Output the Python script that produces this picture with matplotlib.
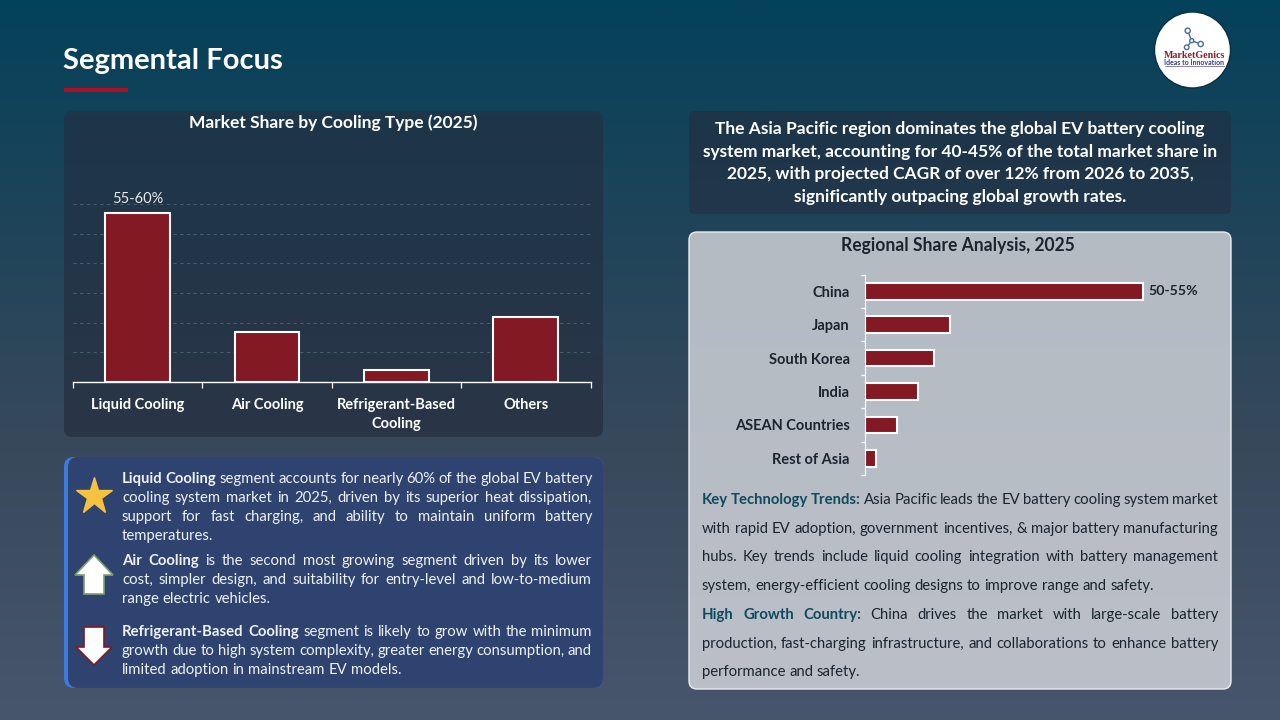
"""Segmental Focus slide: cooling type bars, regional bars and justified commentary."""
import numpy as np
import matplotlib
matplotlib.use("Agg")
import matplotlib.pyplot as plt
import matplotlib.colors as mcolors
from matplotlib.patches import Circle, FancyBboxPatch, Polygon, Rectangle

plt.rcParams["font.family"] = ["Lato", "DejaVu Sans"]

W, H = 1280, 720

cooling_types = ["Liquid Cooling", "Air Cooling", "Refrigerant-Based\nCooling", "Others"]
cooling_share = [57, 17, 4, 22]
cooling_labels = ["55-60%", "", "", ""]

regions = ["China", "Japan", "South Korea", "India", "ASEAN Countries", "Rest of Asia"]
region_share = [52.5, 16, 13, 10, 6, 2]
region_labels = ["50-55%", "", "", "", "", ""]

headline = [
    "The Asia Pacific region dominates the global EV battery cooling",
    "system market, accounting for 40-45% of the total market share in",
    "2025, with projected CAGR of over 12% from 2026 to 2035,",
    "significantly outpacing global growth rates.",
]
liquid_lines = [
    "Liquid Cooling segment accounts for nearly 60% of the global EV battery",
    "cooling system market in 2025, driven by its superior heat dissipation,",
    "support for fast charging, and ability to maintain uniform battery",
    "temperatures.",
]
air_lines = [
    "Air Cooling is the second most growing segment driven by its lower",
    "cost, simpler design, and suitability for entry-level and low-to-medium",
    "range electric vehicles.",
]
refrigerant_lines = [
    "Refrigerant-Based Cooling segment is likely to grow with the minimum",
    "growth due to high system complexity, greater energy consumption, and",
    "limited adoption in mainstream EV models.",
]
trend_lines = [
    "Key Technology Trends: Asia Pacific leads the EV battery cooling system market",
    "with rapid EV adoption, government incentives, & major battery manufacturing",
    "hubs. Key trends include liquid cooling integration with battery management",
    "system, energy-efficient cooling designs to improve range and safety.",
]
country_lines = [
    "High Growth Country: China drives the market with large-scale battery",
    "production, fast-charging infrastructure, and collaborations to enhance battery",
    "performance and safety.",
]

BAR = "#821923"
TEAL = "#0f4a5e"
DARK = "#1b2530"
BODY_SIZE = 10.7


def px_axes(fig, x0, y0, x1, y1, **kw):
    # axes from pixel box, y counted from the top of the slide
    return fig.add_axes([x0 / W, 1 - y1 / H, (x1 - x0) / W, (y1 - y0) / H], **kw)


def panel(ax, x, y, w, h, top, bottom, r=8, edge="none", lw=0):
    shape = FancyBboxPatch((x + r, y + r), w - 2 * r, h - 2 * r,
                           boxstyle=f"round,pad={r},rounding_size={r}",
                           fc="none", ec=edge, lw=lw, zorder=3)
    ax.add_patch(shape)
    cmap = mcolors.LinearSegmentedColormap.from_list("p", [top, bottom])
    img = ax.imshow(np.linspace(0, 1, 64)[:, None], cmap=cmap, aspect="auto",
                    extent=(x, x + w, y + h, y), zorder=2)
    img.set_clip_path(shape)


def justified(ax, lines, y0, step, x0, x1, n_bold, size, color, bold_color=None):
    """Draw lines word by word, stretching gaps; the last line stays flush left."""
    renderer = ax.figure.canvas.get_renderer()
    sx = ax.transData.transform((1, 0))[0] - ax.transData.transform((0, 0))[0]
    space = ax.text(0, 0, "a b", fontsize=size)
    a_b = space.get_window_extent(renderer).width
    space.set_text("ab")
    natural_gap = (a_b - space.get_window_extent(renderer).width) / sx
    space.remove()
    left = n_bold
    for i, line in enumerate(lines):
        words = line.split()
        items = []
        for w in words:
            bold = left > 0
            left -= 1
            t = ax.text(0, y0 + i * step, w, fontsize=size, va="baseline", zorder=6,
                        fontweight="bold" if bold else "normal",
                        color=(bold_color or color) if bold else color)
            items.append((t, t.get_window_extent(renderer).width / sx))
        total = sum(wd for _, wd in items)
        if i < len(lines) - 1:
            gap = (x1 - x0 - total) / (len(items) - 1)
        else:
            gap = natural_gap
        x = x0
        for t, wd in items:
            t.set_x(x)
            x += wd + gap


fig = plt.figure(figsize=(W / 100, H / 100), dpi=100)
bg = fig.add_axes([0, 0, 1, 1])
bg.set_xlim(0, W)
bg.set_ylim(H, 0)
bg.axis("off")

bg_cmap = mcolors.LinearSegmentedColormap.from_list(
    "bg", [(0, "#04415b"), (0.3, "#1e4459"), (0.63, "#39495c"), (1, "#47566c")])
bg.imshow(np.linspace(0, 1, 256)[:, None], cmap=bg_cmap, aspect="auto",
          extent=(0, W, H, 0), zorder=0)

bg.text(63, 69, "Segmental Focus", color="white", fontsize=21, fontweight="bold", zorder=6)
bg.add_patch(Rectangle((64, 87.5), 64, 4, fc="#b01020", zorder=5))

# panels
panel(bg, 64, 111, 539, 326, "#1d364a", "#2a3546")
panel(bg, 64, 457, 539, 231, "#3a7ddf", "#3a7ddf", r=10)
panel(bg, 68, 457, 535, 231, "#2e4371", "#2f4470", r=10)
panel(bg, 689, 111, 542, 103, "#1c3549", "#22374b", r=6)
panel(bg, 689, 232, 542, 457, "#b4bbc3", "#bbbfc8", r=8, edge="#e8ecef", lw=1)

bg.text(333, 122.5, "Market Share by Cooling Type (2025)", color="white", fontsize=12.5,
        fontweight="bold", ha="center", va="center", zorder=6)
bg.text(958, 245, "Regional Share Analysis, 2025", color=DARK, fontsize=12.65,
        fontweight="bold", ha="center", va="center", zorder=6)

for i, line in enumerate(headline):
    bg.text(960, 129 + i * 22.7, line, color="white", fontsize=12.5, fontweight="bold",
            ha="center", va="center", zorder=6)

# cooling type chart
ax1 = px_axes(fig, 73, 204, 590.5, 382, facecolor="none")
x1 = np.arange(len(cooling_types))
ax1.set_axisbelow(True)
ax1.yaxis.grid(True, color="#8c9aa8", ls=(0, (4, 4)), lw=0.6, alpha=0.45)
bars1 = ax1.bar(x1, cooling_share, width=0.5, color=BAR, edgecolor="white", lw=1.5)
ax1.bar_label(bars1, labels=cooling_labels, padding=5, color="#e6eaee", fontsize=10.5)
ax1.set_xlim(-0.5, len(cooling_types) - 0.5)
ax1.set_ylim(0, 60)
ax1.set_yticks(np.arange(10, 61, 10))
ax1.set_yticklabels([])
ax1.tick_params(axis="y", length=0)
ax1.set_xticks(x1)
ax1.set_xticklabels(cooling_types, color="white", fontsize=10.5, fontweight="bold", linespacing=1.45)
ax1.set_xticks(np.arange(-0.5, len(cooling_types)), minor=True)
ax1.tick_params(axis="x", which="major", length=0, pad=11.5)
ax1.tick_params(axis="x", which="minor", length=4.5, color="white", width=0.9)
for s in ["top", "left", "right"]:
    ax1.spines[s].set_visible(False)
ax1.spines["bottom"].set_color("white")
ax1.spines["bottom"].set_linewidth(1)

# regional chart
ax2 = px_axes(fig, 865, 274.5, 1183, 475, facecolor="none")
y2 = np.arange(len(regions))
bars2 = ax2.barh(y2, region_share, height=0.5, color=BAR, edgecolor="white", lw=1.5)
ax2.bar_label(bars2, labels=region_labels, padding=4, color=DARK, fontsize=10.2, fontweight="bold")
ax2.set_ylim(len(regions) - 0.5, -0.5)
ax2.set_xlim(0, 60)
ax2.set_xticks([])
ax2.set_yticks(y2)
ax2.set_yticklabels(regions, color=DARK, fontsize=10.5, fontweight="bold")
ax2.set_yticks(np.arange(-0.5, len(regions)), minor=True)
ax2.tick_params(axis="y", which="major", length=0, pad=11)
ax2.tick_params(axis="y", which="minor", length=3, color="white", width=0.9)
for s in ["top", "bottom", "right"]:
    ax2.spines[s].set_visible(False)
ax2.spines["left"].set_color("white")

# commentary, left
justified(bg, liquid_lines, 483, 19, 122, 592, 2, BODY_SIZE, "#eef1f5")
justified(bg, air_lines, 565, 19, 122, 592, 2, BODY_SIZE, "#eef1f5")
justified(bg, refrigerant_lines, 636, 19, 122, 592, 2, BODY_SIZE, "#eef1f5")

# commentary, right
justified(bg, trend_lines, 504, 28.6, 702, 1218, 3, BODY_SIZE, DARK, TEAL)
justified(bg, country_lines, 619, 28.6, 702, 1218, 3, BODY_SIZE, DARK, TEAL)

# icons
bg.plot([94], [496], marker="*", ms=28, color="#f5c242", mec="#f5c242", zorder=6)
bg.add_patch(Polygon([(94, 555), (113, 575), (104, 575), (104, 594), (84, 594), (84, 575), (75, 575)],
                     fc="white", ec="#7e9f6c", lw=1.2, zorder=6))
bg.add_patch(Polygon([(84, 627), (104, 627), (104, 647), (112, 647), (94, 665), (76, 647), (84, 647)],
                     fc="white", ec=BAR, lw=1.2, zorder=6))

# logo
bg.add_patch(Circle((1192.5, 50), 38, fc="white", ec="#0a2f40", lw=1, zorder=6))
nodes = [(1187.7, 30.7), (1191.7, 40.7), (1200.7, 44), (1186.7, 47.3)]
for n in [nodes[0], nodes[2], nodes[3]]:
    bg.plot([nodes[1][0], n[0]], [nodes[1][1], n[1]], color="#4a6c9c", lw=1, zorder=7)
for n, r in zip(nodes, [2.6, 2, 2.6, 2.3]):
    bg.add_patch(Circle(n, r, fc="white", ec="#4a6c9c", lw=1, zorder=8))
bg.text(1194.5, 56, "MarketGenics", color="#8f1c2b", fontsize=7.2, fontweight="bold",
        family="Liberation Serif", ha="center", va="center", zorder=7)
bg.text(1194.5, 62.7, "Ideas to Innovation", color="#2c3e80", fontsize=5, fontweight="bold",
        ha="center", va="center", zorder=7)
bg.plot([1165, 1224], [65.5, 65.5], color="#6a4c8c", lw=0.5, zorder=7)
bg.set_xlim(0, W)
bg.set_ylim(H, 0)

fig.savefig("out.png", dpi=100)
